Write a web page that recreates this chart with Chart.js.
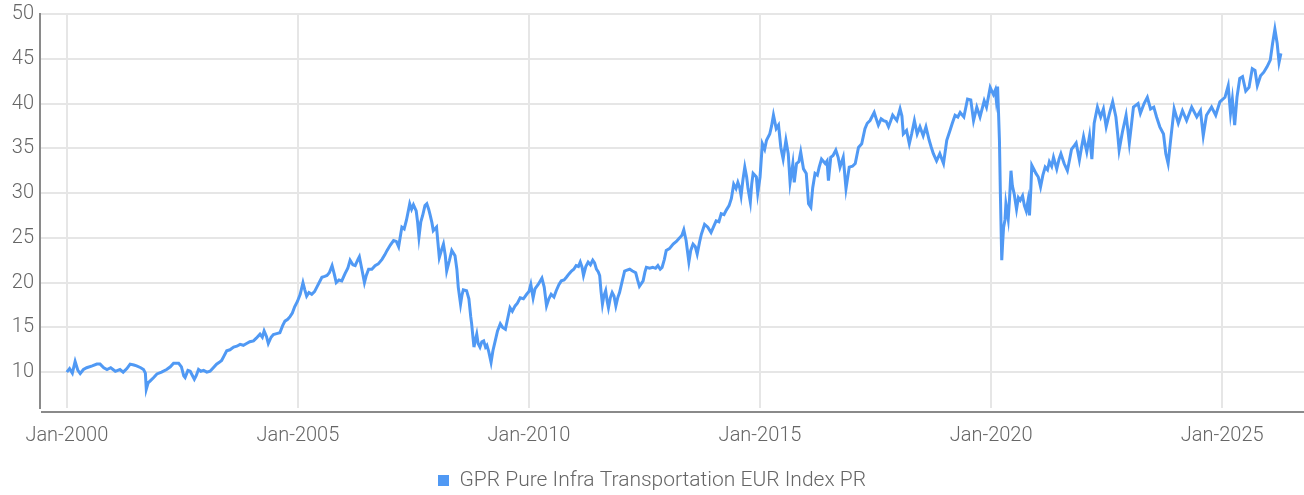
<!DOCTYPE html>
<html>
<head>
<meta charset="utf-8">
<script src="https://cdn.jsdelivr.net/npm/chart.js@4.4.1/dist/chart.umd.min.js"></script>
<style>
  html, body { margin: 0; padding: 0; background: #fff; }
  #wrap { width: 1304px; height: 495px; }
</style>
</head>
<body>
<div id="wrap"><canvas id="indexChart" width="1304" height="495"></canvas></div>
<script>
// time as decimal years
const seriesName = "GPR Pure Infra Transportation EUR Index PR";
const time = [
  2000.00, 2000.06, 2000.12, 2000.18, 2000.24, 2000.29, 2000.36, 2000.43, 2000.55, 2000.65,
  2000.72, 2000.80, 2000.87, 2000.95, 2001.05, 2001.15, 2001.22, 2001.30, 2001.37, 2001.45,
  2001.51, 2001.60, 2001.66, 2001.70, 2001.72, 2001.76, 2001.80, 2001.88, 2001.95, 2002.05,
  2002.16, 2002.24, 2002.31, 2002.42, 2002.48, 2002.53, 2002.56, 2002.62, 2002.67, 2002.72,
  2002.76, 2002.80, 2002.85, 2002.90, 2002.96, 2003.03, 2003.10, 2003.17, 2003.24, 2003.30,
  2003.35, 2003.40, 2003.46, 2003.53, 2003.61, 2003.68, 2003.75, 2003.82, 2003.89, 2003.96,
  2004.04, 2004.10, 2004.18, 2004.23, 2004.27, 2004.32, 2004.36, 2004.42, 2004.47, 2004.54,
  2004.61, 2004.67, 2004.72, 2004.78, 2004.83, 2004.88, 2004.93, 2004.99, 2005.05, 2005.11,
  2005.15, 2005.19, 2005.24, 2005.30, 2005.36, 2005.41, 2005.47, 2005.52, 2005.58, 2005.63,
  2005.68, 2005.74, 2005.79, 2005.83, 2005.89, 2005.95, 2006.02, 2006.08, 2006.13, 2006.19,
  2006.24, 2006.30, 2006.33, 2006.38, 2006.44, 2006.48, 2006.53, 2006.60, 2006.67, 2006.74,
  2006.82, 2006.88, 2006.93, 2007.00, 2007.07, 2007.13, 2007.18, 2007.25, 2007.30, 2007.35,
  2007.42, 2007.46, 2007.50, 2007.56, 2007.59, 2007.62, 2007.66, 2007.70, 2007.75, 2007.79,
  2007.83, 2007.86, 2007.90, 2007.93, 2008.00, 2008.03, 2008.06, 2008.10, 2008.15, 2008.19,
  2008.22, 2008.28, 2008.33, 2008.40, 2008.44, 2008.47, 2008.52, 2008.55, 2008.58, 2008.65,
  2008.70, 2008.74, 2008.76, 2008.79, 2008.81, 2008.84, 2008.87, 2008.90, 2008.94, 2008.98,
  2009.02, 2009.06, 2009.09, 2009.13, 2009.18, 2009.22, 2009.27, 2009.32, 2009.38, 2009.43,
  2009.49, 2009.54, 2009.59, 2009.64, 2009.70, 2009.75, 2009.81, 2009.88, 2009.95, 2010.00,
  2010.04, 2010.09, 2010.13, 2010.20, 2010.28, 2010.33, 2010.38, 2010.43, 2010.48, 2010.54,
  2010.59, 2010.65, 2010.70, 2010.76, 2010.81, 2010.87, 2010.92, 2010.97, 2011.02, 2011.07,
  2011.11, 2011.15, 2011.18, 2011.23, 2011.28, 2011.33, 2011.38, 2011.42, 2011.46, 2011.50,
  2011.53, 2011.56, 2011.59, 2011.62, 2011.66, 2011.69, 2011.72, 2011.76, 2011.80, 2011.84,
  2011.88, 2011.92, 2011.96, 2012.01, 2012.07, 2012.12, 2012.18, 2012.24, 2012.31, 2012.35,
  2012.39, 2012.43, 2012.47, 2012.51, 2012.54, 2012.61, 2012.68, 2012.74, 2012.79, 2012.84,
  2012.88, 2012.93, 2012.97, 2013.04, 2013.12, 2013.19, 2013.26, 2013.31, 2013.35, 2013.40,
  2013.43, 2013.46, 2013.50, 2013.55, 2013.60, 2013.64, 2013.69, 2013.73, 2013.80, 2013.87,
  2013.94, 2014.00, 2014.05, 2014.11, 2014.16, 2014.22, 2014.27, 2014.33, 2014.38, 2014.43,
  2014.48, 2014.52, 2014.56, 2014.59, 2014.63, 2014.67, 2014.71, 2014.74, 2014.79, 2014.82,
  2014.85, 2014.92, 2014.95, 2015.00, 2015.05, 2015.10, 2015.14, 2015.21, 2015.25, 2015.29,
  2015.35, 2015.40, 2015.45, 2015.50, 2015.56, 2015.61, 2015.65, 2015.71, 2015.74, 2015.79,
  2015.84, 2015.88, 2015.94, 2016.00, 2016.05, 2016.10, 2016.14, 2016.19, 2016.24, 2016.28,
  2016.33, 2016.41, 2016.45, 2016.48, 2016.53, 2016.58, 2016.64, 2016.69, 2016.73, 2016.80,
  2016.86, 2016.93, 2017.00, 2017.06, 2017.13, 2017.20, 2017.27, 2017.32, 2017.38, 2017.47,
  2017.52, 2017.56, 2017.62, 2017.67, 2017.73, 2017.78, 2017.83, 2017.87, 2017.96, 2018.03,
  2018.07, 2018.10, 2018.17, 2018.23, 2018.28, 2018.34, 2018.40, 2018.46, 2018.53, 2018.59,
  2018.66, 2018.70, 2018.75, 2018.82, 2018.89, 2018.97, 2019.04, 2019.11, 2019.16, 2019.22,
  2019.28, 2019.33, 2019.41, 2019.49, 2019.56, 2019.62, 2019.69, 2019.76, 2019.85, 2019.90,
  2019.98, 2020.05, 2020.09, 2020.11, 2020.14, 2020.16, 2020.18, 2020.20, 2020.23, 2020.25,
  2020.27, 2020.30, 2020.32, 2020.37, 2020.40, 2020.43, 2020.46, 2020.50, 2020.55, 2020.59,
  2020.63, 2020.68, 2020.72, 2020.76, 2020.80, 2020.83, 2020.86, 2020.88, 2020.93, 2020.97,
  2021.02, 2021.07, 2021.12, 2021.17, 2021.22, 2021.26, 2021.31, 2021.35, 2021.42, 2021.47,
  2021.51, 2021.58, 2021.65, 2021.70, 2021.74, 2021.80, 2021.84, 2021.91, 2021.96, 2022.00,
  2022.07, 2022.13, 2022.18, 2022.23, 2022.30, 2022.37, 2022.43, 2022.49, 2022.56, 2022.63,
  2022.70, 2022.74, 2022.77, 2022.84, 2022.92, 2022.96, 2022.99, 2023.04, 2023.08, 2023.18,
  2023.23, 2023.31, 2023.38, 2023.45, 2023.52, 2023.58, 2023.65, 2023.73, 2023.78, 2023.83,
  2023.89, 2023.96, 2024.05, 2024.14, 2024.23, 2024.34, 2024.45, 2024.53, 2024.59, 2024.66,
  2024.77, 2024.86, 2024.95, 2025.06, 2025.13, 2025.18, 2025.22, 2025.27, 2025.32, 2025.38,
  2025.44, 2025.51, 2025.58, 2025.65, 2025.71, 2025.76, 2025.83, 2025.90, 2025.97, 2026.04,
  2026.09, 2026.14, 2026.19, 2026.23, 2026.27
];
const values = [
  10.0, 10.4, 9.9, 11.2, 10.2, 9.85, 10.3, 10.5, 10.7, 10.9,
  10.9, 10.5, 10.3, 10.5, 10.1, 10.3, 10.0, 10.4, 10.9, 10.8,
  10.7, 10.5, 10.3, 9.9, 8.1, 8.8, 9.0, 9.4, 9.8, 10.0,
  10.3, 10.6, 11.0, 11.0, 10.6, 9.6, 9.4, 10.2, 10.1, 9.6,
  9.2, 9.6, 10.3, 10.1, 10.2, 10.0, 10.1, 10.5, 10.9, 11.1,
  11.3, 11.8, 12.4, 12.5, 12.8, 12.9, 13.1, 13.0, 13.2, 13.4,
  13.5, 13.8, 14.25, 13.9, 14.6, 14.0, 13.2, 13.9, 14.2, 14.3,
  14.4, 15.2, 15.7, 15.9, 16.2, 16.6, 17.3, 17.9, 18.7, 20.0,
  19.2, 18.5, 18.9, 18.7, 19.0, 19.5, 20.1, 20.6, 20.7, 20.8,
  21.1, 21.9, 20.9, 20.0, 20.3, 20.2, 21.0, 21.6, 22.5, 22.0,
  21.9, 22.6, 22.9, 21.6, 20.0, 20.8, 21.5, 21.5, 21.9, 22.1,
  22.6, 23.1, 23.6, 24.2, 24.7, 24.6, 24.0, 26.2, 26.0, 27.0,
  28.8, 28.2, 28.7, 28.0, 26.8, 25.1, 26.8, 27.5, 28.6, 28.8,
  28.2, 27.6, 26.7, 25.8, 26.2, 24.5, 22.8, 23.5, 24.3, 23.0,
  21.3, 22.5, 23.6, 23.0, 21.5, 19.5, 17.6, 18.6, 19.2, 19.1,
  18.2, 16.2, 15.4, 13.8, 12.8, 13.6, 14.25, 13.2, 12.8, 13.4,
  13.5, 12.8, 13.0, 12.3, 11.1, 12.4, 13.5, 14.6, 15.4, 15.0,
  14.8, 16.0, 17.2, 16.8, 17.4, 17.7, 18.3, 18.2, 18.7, 19.0,
  19.8, 18.3, 19.3, 19.8, 20.5, 19.5, 17.4, 18.2, 18.7, 18.4,
  19.1, 19.8, 20.2, 20.3, 20.6, 21.0, 21.3, 21.5, 21.9, 21.8,
  22.3, 21.7, 20.8, 21.8, 22.3, 22.0, 22.5, 22.2, 21.5, 21.2,
  20.8, 19.0, 17.6, 18.5, 19.1, 18.0, 17.2, 18.3, 18.9, 18.5,
  17.4, 18.3, 18.9, 20.0, 21.3, 21.4, 21.5, 21.3, 21.1, 20.3,
  19.6, 19.9, 20.2, 21.2, 21.7, 21.6, 21.7, 21.6, 21.9, 21.5,
  21.7, 22.6, 23.6, 23.8, 24.3, 24.6, 25.0, 25.3, 25.9, 24.7,
  23.5, 22.3, 23.6, 24.3, 24.0, 23.2, 24.5, 25.4, 26.5, 26.2,
  25.6, 26.3, 26.9, 26.8, 27.7, 27.6, 28.1, 28.6, 29.4, 31.0,
  30.5, 31.2, 30.6, 29.7, 31.5, 32.9, 31.8, 30.5, 29.0, 31.0,
  32.2, 31.8, 30.0, 31.8, 35.5, 34.9, 35.9, 36.6, 37.5, 38.7,
  37.2, 37.6, 35.1, 33.8, 35.9, 34.4, 31.2, 33.3, 31.2, 33.3,
  33.5, 34.6, 32.7, 32.2, 28.8, 28.4, 30.6, 32.2, 32.0, 32.9,
  33.8, 33.3, 33.6, 31.4, 34.0, 34.2, 34.8, 34.0, 32.9, 34.0,
  30.5, 32.9, 33.0, 33.3, 35.1, 35.5, 37.2, 37.8, 38.1, 39.0,
  38.2, 37.6, 38.3, 38.1, 38.0, 37.4, 38.1, 38.7, 38.1, 39.4,
  38.6, 36.6, 37.0, 35.5, 36.6, 38.1, 36.6, 37.4, 36.4, 37.4,
  35.9, 35.2, 34.4, 33.6, 34.4, 33.3, 35.9, 37.0, 37.8, 38.7,
  38.5, 39.0, 38.5, 40.5, 40.4, 38.1, 39.6, 38.5, 40.3, 39.6,
  41.8, 41.0, 41.5, 40.5, 41.9, 39.0, 35.9, 30.0, 22.5, 24.5,
  26.2, 27.0, 28.8, 27.1, 29.5, 32.5, 30.8, 29.9, 28.2, 29.5,
  29.2, 29.7, 28.6, 28.0, 29.2, 27.5, 30.5, 33.1, 32.6, 32.2,
  31.8, 30.7, 32.0, 32.9, 32.6, 33.5, 33.0, 34.0, 32.7, 33.8,
  34.4, 33.3, 32.5, 33.8, 34.9, 35.3, 35.6, 33.7, 35.2, 36.3,
  34.6, 36.4, 33.8, 37.8, 39.6, 38.5, 39.4, 37.4, 38.9, 40.2,
  38.5, 36.5, 34.8, 36.8, 38.7, 37.0, 35.6, 37.8, 39.6, 40.0,
  38.9, 40.0, 40.7, 39.4, 39.6, 38.5, 37.4, 36.6, 34.4, 33.3,
  36.2, 39.4, 37.8, 39.2, 38.1, 39.6, 38.5, 39.2, 36.4, 38.7,
  39.6, 38.7, 40.2, 40.7, 42.0, 38.9, 40.5, 37.6, 40.7, 42.8,
  43.0, 41.4, 41.8, 43.9, 43.7, 42.0, 43.1, 43.5, 44.1, 44.85,
  46.7, 48.3, 46.7, 44.6, 45.6
];
const xTicks = [2000, 2005, 2010, 2015, 2020, 2025];
const yTicks = [10, 15, 20, 25, 30, 35, 40, 45, 50];

const FONT = 'Roboto, "Liberation Sans Narrow", sans-serif';
const LINE_BLUE = "#5099f4";

// x axis line sits a few px below the plot in the original
const bottomAxisLine = {
  id: "bottomAxisLine",
  beforeLayout(chart) {
    // legend sits a bit lower than Chart.js puts it
    const lg = chart.legend;
    if (lg && !lg._trimmed) {
      const fit = lg.fit;
      lg.fit = function () {
        fit.call(this);
        this.height -= 6;
      };
      lg._trimmed = true;
    }
  },
  afterDraw(chart) {
    const { ctx, chartArea } = chart;
    ctx.save();
    ctx.strokeStyle = "#8a8a8a";
    ctx.lineWidth = 2;
    ctx.beginPath();
    ctx.moveTo(chartArea.left + 1, chartArea.bottom + 4);
    ctx.lineTo(chartArea.right, chartArea.bottom + 4);
    ctx.stroke();
    ctx.restore();
  },
};

const points = time.map((t, i) => ({ x: t, y: values[i] }));

new Chart(document.getElementById("indexChart"), {
  type: "line",
  data: {
    datasets: [
      {
        label: seriesName,
        data: points,
        borderColor: LINE_BLUE,
        backgroundColor: LINE_BLUE,
        borderWidth: 3,
        pointRadius: 0,
        tension: 0,
        fill: false,
      },
    ],
  },
  options: {
    responsive: false,
    animation: false,
    layout: { padding: { top: 14, right: 0, left: 0, bottom: 0 } },
    plugins: {
      tooltip: { enabled: false },
      legend: {
        position: "bottom",
        labels: {
          boxWidth: 11,
          boxHeight: 11,
          padding: 0,
          color: "#666",
          font: { family: FONT, size: 21, weight: 300 },
          generateLabels(chart) {
            return Chart.defaults.plugins.legend.labels.generateLabels(chart).map((it) => ({
              ...it,
              lineWidth: 0,
            }));
          },
        },
      },
    },
    scales: {
      x: {
        type: "linear",
        min: 1999.42,
        max: 2026.77,
        afterBuildTicks(scale) {
          scale.ticks = xTicks.map((v) => ({ value: v }));
        },
        afterFit(scale) {
          scale.height = 62;
        },
        ticks: {
          color: "#666",
          padding: 16,
          maxRotation: 0,
          font: { family: FONT, size: 20, weight: 300 },
          callback: (v) => "Jan-" + v,
        },
        grid: { color: "#e6e6e6", lineWidth: 2, drawTicks: false },
        border: { display: false },
      },
      y: {
        min: 6,
        max: 50,
        afterBuildTicks(scale) {
          scale.ticks = yTicks.map((v) => ({ value: v }));
        },
        afterFit(scale) {
          scale.width = 40;
          scale.paddingTop = 0;
          scale.paddingBottom = 0;
        },
        ticks: {
          color: "#666",
          padding: 6,
          font: { family: FONT, size: 20, weight: 300 },
        },
        grid: { color: "#e6e6e6", lineWidth: 2, drawTicks: false },
        border: { display: true, color: "#8a8a8a", width: 2 },
      },
    },
  },
  plugins: [bottomAxisLine],
});
</script>
</body>
</html>
